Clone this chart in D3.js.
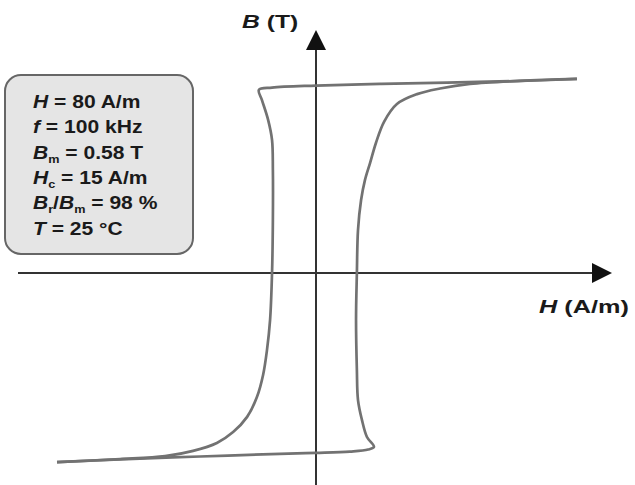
<!DOCTYPE html>
<html>
<head>
<meta charset="utf-8">
<script src="https://cdn.jsdelivr.net/npm/d3@7"></script>
<style>
body { margin: 0; background: #fff; }
text { font-family: "Liberation Sans", Arial, sans-serif; font-weight: bold; fill: #1a1a1a; }
</style>
</head>
<body>
<div id="chart"></div>
<script>
// descending branch (H going from +max to -max), H in A/m, B in T
var descH = [93.2, 72.9, 46.8, 22.9, 0, -15.7, -20.4, -19.3, -17.1, -15.7, -15.4, -15.4, -15.7, -16.4, -17.5, -18.9, -21.1, -24.6, -29.6, -35.4, -43.9, -53.9, -70, -92.5];
var descB = [0.588, 0.582, 0.577, 0.573, 0.568, 0.562, 0.555, 0.524, 0.464, 0.403, 0.312, 0.161, 0, -0.142, -0.233, -0.309, -0.376, -0.436, -0.482, -0.515, -0.539, -0.555, -0.564, -0.573];
// ascending branch (H going from -max to +max)
var ascH = [-92.5, -70, -41.4, -12.9, 0, 12.1, 18.6, 20.7, 18.2, 16.4, 15, 14.6, 14.3, 14.6, 15, 16.1, 17.5, 19.3, 21.4, 24.3, 28.9, 36.1, 44.3, 55, 72.9, 93.2];
var ascB = [-0.573, -0.565, -0.556, -0.548, -0.545, -0.541, -0.535, -0.527, -0.497, -0.445, -0.385, -0.294, -0.142, 0, 0.130, 0.221, 0.282, 0.333, 0.394, 0.458, 0.512, 0.542, 0.559, 0.573, 0.582, 0.588];

// info box lines: [text, style] pieces; style i = italic, s = subscript
var infoLines = [
  [["H", "i"], [" = 80 A/m", ""]],
  [["f", "i"], [" = 100 kHz", ""]],
  [["B", "i"], ["m", "s"], [" = 0.58 T", ""]],
  [["H", "i"], ["c", "s"], [" = 15 A/m", ""]],
  [["B", "i"], ["r", "s"], ["/", ""], ["B", "i"], ["m", "s"], [" = 98 %", ""]],
  [["T", "i"], [" = 25 °C", ""]]
];

var width = 635, height = 485;

var svg = d3.select("#chart").append("svg")
  .attr("width", width)
  .attr("height", height);

var x = d3.scaleLinear().domain([0, 100]).range([316, 596]);
var y = d3.scaleLinear().domain([0, 0.6]).range([273, 75]);

// axes
svg.append("line")
  .attr("x1", 18).attr("x2", 596)
  .attr("y1", y(0)).attr("y2", y(0))
  .attr("stroke", "#333").attr("stroke-width", 2);
svg.append("path")
  .attr("d", "M" + 612 + "," + y(0) + "L592," + (y(0) - 10) + "L592," + (y(0) + 10) + "Z")
  .attr("fill", "#111");

svg.append("line")
  .attr("x1", x(0)).attr("x2", x(0))
  .attr("y1", 485).attr("y2", 48)
  .attr("stroke", "#333").attr("stroke-width", 2);
svg.append("path")
  .attr("d", "M" + x(0) + ",30L" + (x(0) - 10) + ",50L" + (x(0) + 10) + ",50Z")
  .attr("fill", "#111");

// loop
var line = d3.line()
  .x(function(d) { return x(d[0]); })
  .y(function(d) { return y(d[1]); })
  .curve(d3.curveCatmullRom.alpha(0.5));

var desc = descH.map(function(h, i) { return [h, descB[i]]; });
var asc = ascH.map(function(h, i) { return [h, ascB[i]]; });

[desc, asc].forEach(function(branch) {
  svg.append("path")
    .attr("d", line(branch))
    .attr("fill", "none")
    .attr("stroke", "#727272")
    .attr("stroke-width", 2.7)
    .attr("stroke-linejoin", "round");
});

// text with italic / subscript pieces
function label(g, parts, size) {
  var t = g.append("text").attr("font-size", size);
  var low = false;
  parts.forEach(function(p) {
    var ts = t.append("tspan").text(p[0]);
    if (p[1] == "i") ts.attr("font-style", "italic");
    if (p[1] == "s") {
      ts.attr("font-size", size * 0.6);
      if (!low) ts.attr("dy", 4);
      low = true;
    } else if (low) {
      ts.attr("dy", -4);
      low = false;
    }
  });
  return t;
}

var gB = svg.append("g").attr("transform", "translate(242,28) scale(1.3,1)");
label(gB, [["B", "i"], [" (T)", ""]], 19);

var gH = svg.append("g").attr("transform", "translate(539,313) scale(1.33,1)");
label(gH, [["H", "i"], [" (A/m)", ""]], 19);

// info box
svg.append("rect")
  .attr("x", 5).attr("y", 75)
  .attr("width", 188).attr("height", 179)
  .attr("rx", 16)
  .attr("fill", "#e5e5e5")
  .attr("stroke", "#666")
  .attr("stroke-width", 2);

infoLines.forEach(function(parts, i) {
  var g = svg.append("g").attr("transform", "translate(33," + (108 + i * 25.3) + ") scale(1.17,1)");
  label(g, parts, 18);
});
</script>
</body>
</html>
